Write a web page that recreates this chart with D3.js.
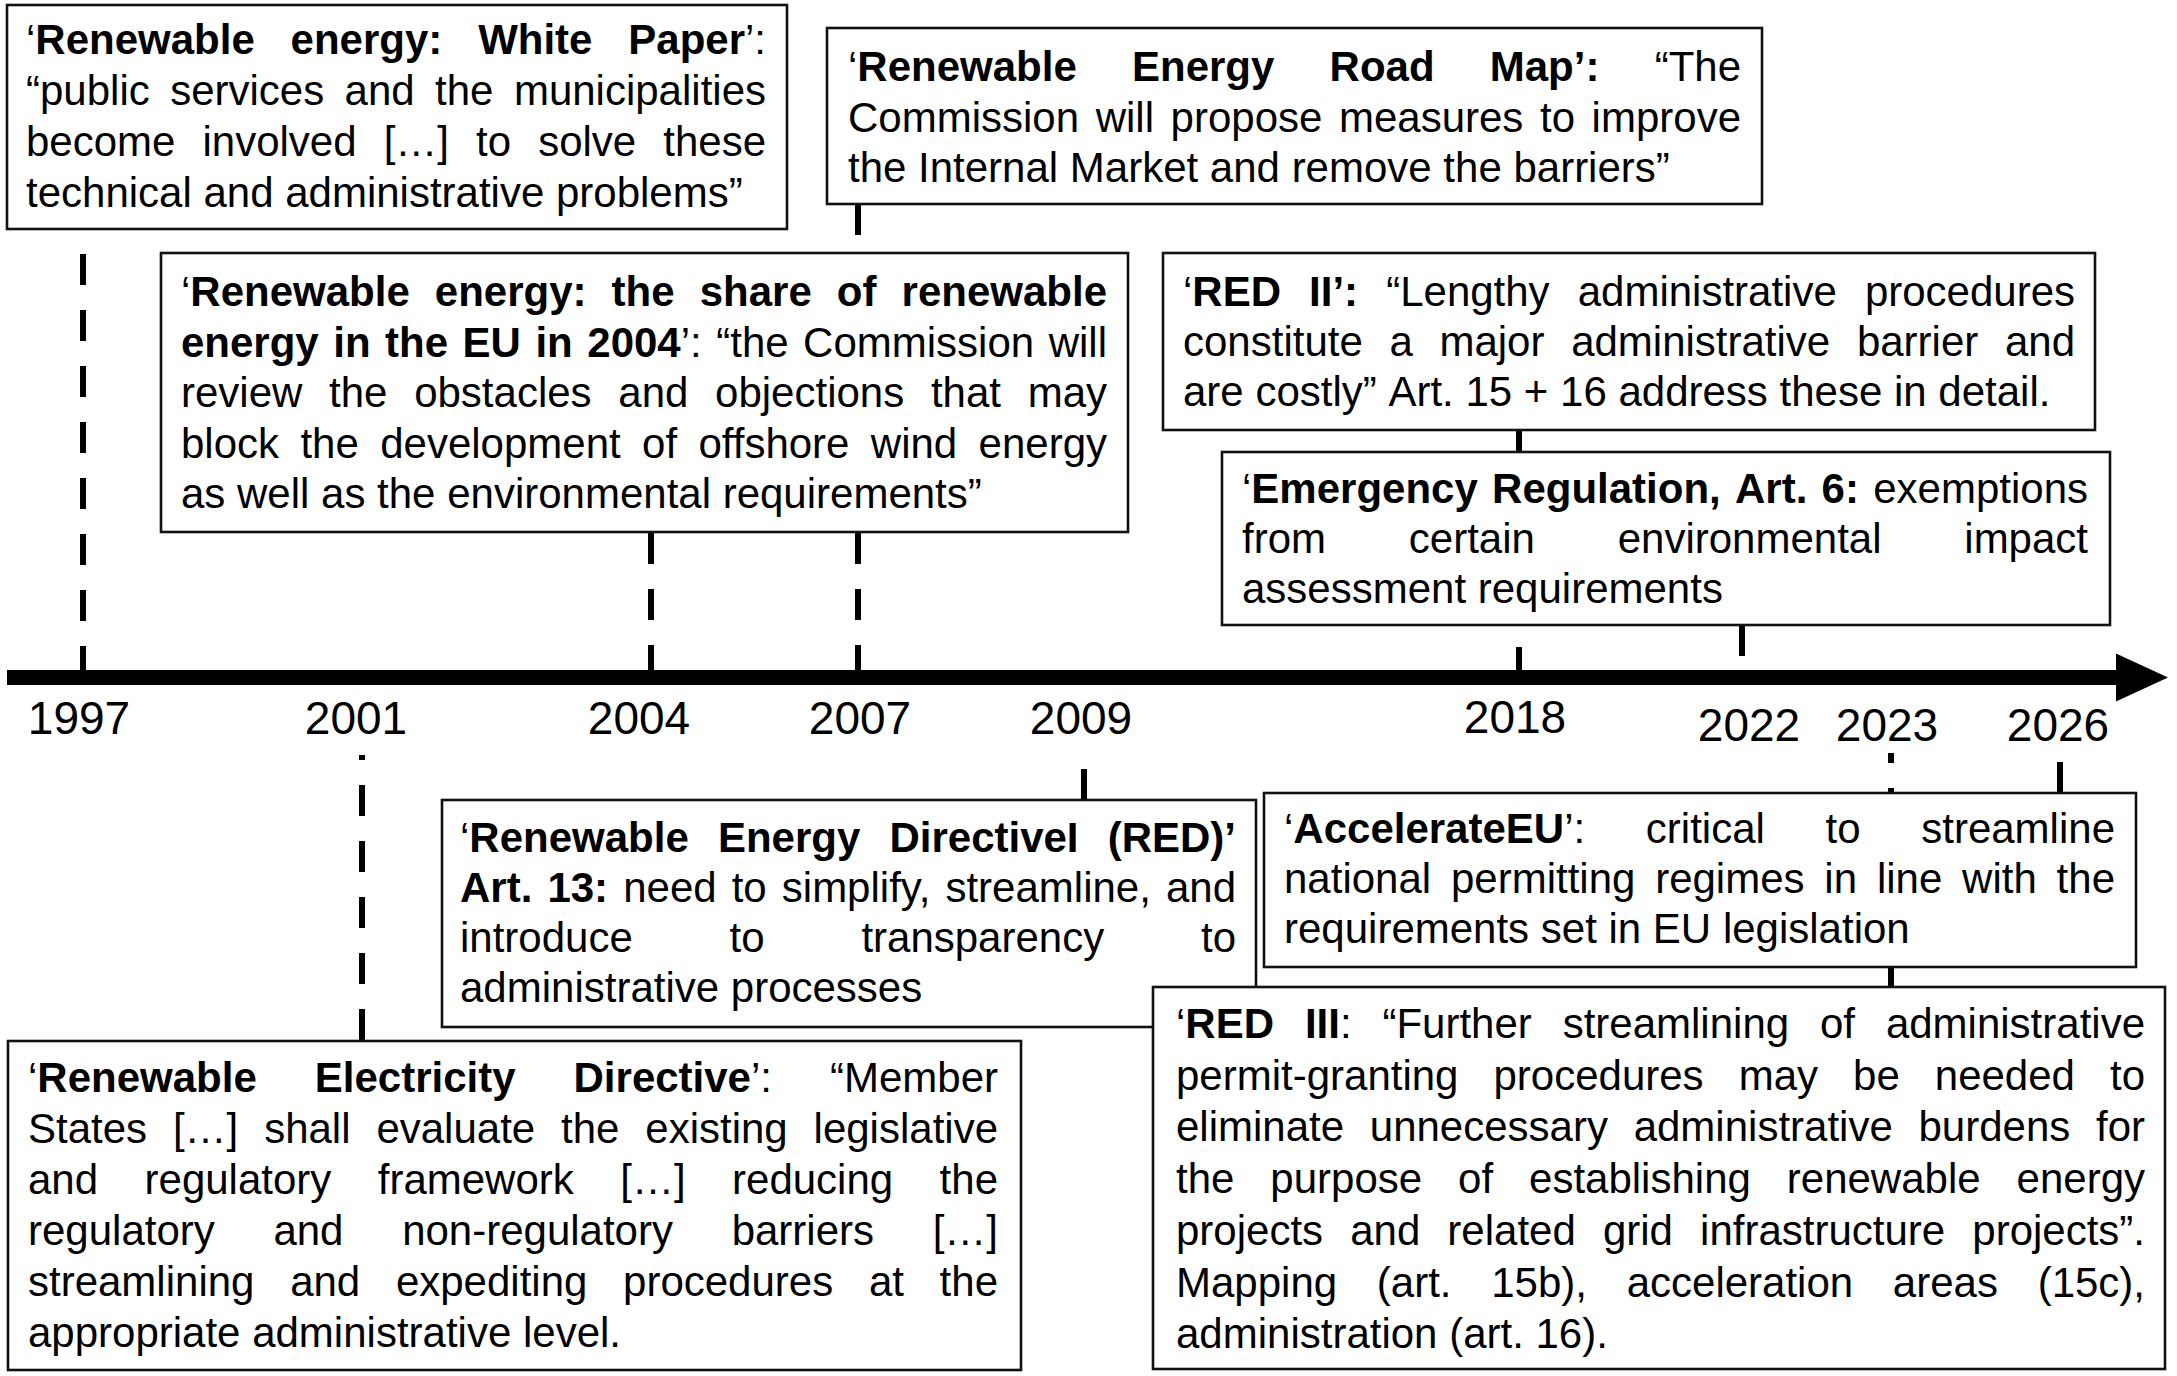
<!DOCTYPE html>
<html><head><meta charset="utf-8">
<script src="https://cdn.jsdelivr.net/npm/d3@7"></script>
<style>html,body{margin:0;padding:0;background:#fff;} svg{display:block;}</style>
</head><body><div id="chart"></div>
<script>
// ---------------- data ----------------
const years = [1997, 2001, 2004, 2007, 2009, 2018, 2022, 2023, 2026];
const yearLabels = ["1997", "2001", "2004", "2007", "2009", "2018", "2022", "2023", "2026"];

const eventIds   = ["whitePaper", "roadMap", "share2004", "red2", "emergency", "red", "accelerate", "electricity", "red3"];
const eventYears = [1997, 2007, 2004, 2018, 2022, 2009, 2026, 2001, 2023];

const textWhitePaper = [
  "‘**Renewable energy: White Paper**’:",
  "“public services and the municipalities",
  "become involved […] to solve these",
  "technical and administrative problems”"
];
const textRoadMap = [
  "‘**Renewable Energy Road Map’:** “The",
  "Commission will propose measures to improve",
  "the Internal Market and remove the barriers”"
];
const textShare2004 = [
  "‘**Renewable energy: the share of renewable**",
  "**energy in the EU in 2004**’: “the Commission will",
  "review the obstacles and objections that may",
  "block the development of offshore wind energy",
  "as well as the environmental requirements”"
];
const textRed2 = [
  "‘**RED II’:** “Lengthy administrative procedures",
  "constitute a major administrative barrier and",
  "are costly” Art. 15 + 16 address these in detail."
];
const textEmergency = [
  "‘**Emergency Regulation, Art. 6:** exemptions",
  "from certain environmental impact",
  "assessment requirements"
];
const textRed = [
  "‘**Renewable Energy DirectiveI (RED)’**",
  "**Art. 13:** need to simplify, streamline, and",
  "introduce to transparency to",
  "administrative processes"
];
const textAccelerate = [
  "‘**AccelerateEU**’: critical to streamline",
  "national permitting regimes in line with the",
  "requirements set in EU legislation"
];
const textElectricity = [
  "‘**Renewable Electricity Directive**’: “Member",
  "States […] shall evaluate the existing legislative",
  "and regulatory framework […] reducing the",
  "regulatory and non-regulatory barriers […]",
  "streamlining and expediting procedures at the",
  "appropriate administrative level."
];
const textRed3 = [
  "‘**RED III**: “Further streamlining of administrative",
  "permit-granting procedures may be needed to",
  "eliminate unnecessary administrative burdens for",
  "the purpose of establishing renewable energy",
  "projects and related grid infrastructure projects”.",
  "Mapping (art. 15b), acceleration areas (15c),",
  "administration (art. 16)."
];
const eventTexts = [textWhitePaper, textRoadMap, textShare2004, textRed2, textEmergency,
                    textRed, textAccelerate, textElectricity, textRed3];

// ---------------- layout ----------------
const W = 2177, H = 1376;
const tickX = [83, 362, 651, 858, 1084, 1519, 1742, 1891, 2060];
const labelDx = [-4, -6, -12, 2, -3, -4, 7, -4, -2];
const labelY  = [734, 734, 734, 734, 734, 733, 741, 741, 741];
const axisY = 677.5, axisThick = 15, axisX0 = 7, axisX1 = 2116, arrowTip = 2168, arrowHalf = 24;

// box layout per event (same order as eventIds)
const boxLayout = [
  {x0: 7,    y0: 5,   x1: 787,  y1: 229,  t0: 26,   t1: 766,  b: 54,   lh: 51},
  {x0: 827,  y0: 28,  x1: 1762, y1: 204,  t0: 848,  t1: 1741, b: 81,   lh: 50.5},
  {x0: 161,  y0: 253, x1: 1128, y1: 532,  t0: 181,  t1: 1107, b: 306,  lh: 50.6},
  {x0: 1163, y0: 253, x1: 2095, y1: 430,  t0: 1183, t1: 2075, b: 306,  lh: 50},
  {x0: 1222, y0: 452, x1: 2110, y1: 625,  t0: 1242, t1: 2088, b: 503,  lh: 50},
  {x0: 442,  y0: 800, x1: 1256, y1: 1027, t0: 460,  t1: 1236, b: 852,  lh: 50},
  {x0: 1264, y0: 793, x1: 2136, y1: 967,  t0: 1284, t1: 2115, b: 843,  lh: 50},
  {x0: 8,    y0: 1041,x1: 1021, y1: 1370, t0: 28,   t1: 998,  b: 1092, lh: 51},
  {x0: 1153, y0: 987, x1: 2165, y1: 1369, t0: 1176, t1: 2145, b: 1038, lh: 51.7}
];

// connector segments (year, start y, end y) – dashes begin at start y
const connYears = [1997, 2001, 2004, 2007, 2007, 2009, 2018, 2018, 2022, 2023, 2026];
const connY1    = [254, 1040, 533, 204, 533, 800, 430, 647, 625, 987, 793];
const connY2    = [670, 755,  670, 253, 670, 765, 452, 670, 670, 753, 762];

const FONT = "'Liberation Sans', Arial, Helvetica, sans-serif";
const FS = 42, YFS = 46;

// ---------------- drawing ----------------
const x = d3.scaleLinear().domain(years).range(tickX);

const svg = d3.select("#chart").append("svg")
  .attr("width", W).attr("height", H).attr("viewBox", `0 0 ${W} ${H}`)
  .style("font-family", FONT);
svg.append("rect").attr("width", W).attr("height", H).attr("fill", "#fff");

// connectors
svg.append("g").selectAll("line")
  .data(connYears.map((y, i) => ({year: y, y1: connY1[i], y2: connY2[i]})))
  .join("line")
  .attr("x1", d => x(d.year)).attr("x2", d => x(d.year))
  .attr("y1", d => d.y1).attr("y2", d => d.y2)
  .attr("stroke", "#000").attr("stroke-width", 6)
  .attr("stroke-dasharray", "31,25").attr("stroke-linecap", "butt");

// axis
svg.append("rect").attr("x", axisX0).attr("y", axisY - axisThick / 2)
  .attr("width", axisX1 - axisX0 + 2).attr("height", axisThick).attr("fill", "#000");
svg.append("path")
  .attr("d", `M${axisX1},${axisY - arrowHalf} L${arrowTip},${axisY} L${axisX1},${axisY + arrowHalf} Z`)
  .attr("fill", "#000");

// year labels
svg.append("g").selectAll("text")
  .data(years.map((y, i) => ({year: y, label: yearLabels[i], dx: labelDx[i], y: labelY[i]})))
  .join("text")
  .attr("x", d => x(d.year) + d.dx).attr("y", d => d.y)
  .attr("text-anchor", "middle").attr("font-size", YFS).attr("fill", "#000")
  .text(d => d.label);

// text parsing
function parseLine(str) {
  const words = []; let bold = false; let cur = []; let buf = "";
  const flush = () => { if (buf) { cur.push({t: buf, b: bold}); buf = ""; } };
  for (let i = 0; i < str.length; i++) {
    if (str[i] === "*" && str[i + 1] === "*") { flush(); bold = !bold; i++; continue; }
    if (str[i] === " ") { flush(); if (cur.length) { words.push(cur); cur = []; } continue; }
    buf += str[i];
  }
  flush(); if (cur.length) words.push(cur);
  return words;
}

const spaceW = FS * 0.278;

eventIds.forEach((id, i) => {
  const L = boxLayout[i];
  const g = svg.append("g").attr("class", "box-" + id);
  g.append("rect")
    .attr("x", L.x0).attr("y", L.y0)
    .attr("width", L.x1 - L.x0).attr("height", L.y1 - L.y0)
    .attr("fill", "#fff").attr("stroke", "#111").attr("stroke-width", 2.6);
  const lines = eventTexts[i];
  lines.forEach((ln, li) => {
    const words = parseLine(ln);
    const by = L.b + li * L.lh;
    const nodes = words.map(w => {
      const t = g.append("text").attr("y", by).attr("font-size", FS).attr("fill", "#000");
      w.forEach(s => t.append("tspan").attr("font-weight", s.b ? "bold" : "normal").text(s.t));
      return t;
    });
    const widths = nodes.map(n => n.node().getComputedTextLength());
    const total = d3.sum(widths);
    const justify = li < lines.length - 1 && words.length > 1;
    const gap = justify ? (L.t1 - L.t0 - total) / (words.length - 1) : spaceW;
    let cx = L.t0;
    nodes.forEach((n, k) => { n.attr("x", cx); cx += widths[k] + gap; });
  });
});
</script>
</body></html>
